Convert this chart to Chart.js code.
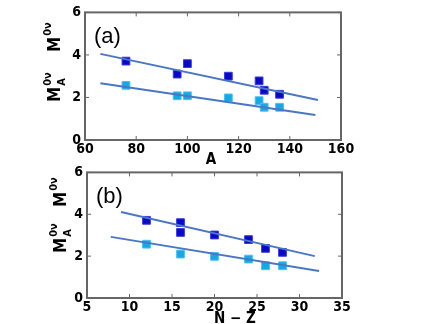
<!DOCTYPE html>
<html>
<head>
<meta charset="utf-8">
<script src="https://cdn.jsdelivr.net/npm/chart.js@4.4.1/dist/chart.umd.min.js"></script>
<style>
  html, body { margin: 0; padding: 0; background: #fff; }
  #wrap { position: relative; width: 432px; height: 324px; overflow: hidden; }
  canvas { position: absolute; left: 0; }
  #topChart { top: 0; }
  #botChart { top: 160px; }
</style>
</head>
<body>
<div id="wrap">
  <canvas id="topChart" width="432" height="170"></canvas>
  <canvas id="botChart" width="432" height="164"></canvas>
</div>
<script>
// panel (a): mass number A
const massNumbers = [76, 96, 100, 116, 128, 130, 136];
const m0vA = [3.71, 3.1, 3.59, 3.0, 2.78, 2.34, 2.15];
const mA0vA = [2.57, 2.08, 2.08, 1.98, 1.85, 1.54, 1.54];
const fitTopA = [[66, 4.05], [151, 1.88]];
const fitLowA = [[66, 2.67], [150, 1.18]];
const ticksA = [60, 80, 100, 120, 140, 160];

// panel (b): neutron excess N - Z
const neutronExcess = [12, 16, 16, 20, 24, 26, 28];
const m0vB = [3.71, 3.6, 3.13, 3.01, 2.79, 2.37, 2.18];
const nzLight = [12, 16, 20, 24, 26, 28];
const mA0vB = [2.57, 2.1, 1.99, 1.86, 1.54, 1.54];
const fitTopB = [[9, 4.11], [31.8, 2.0]];
const fitLowB = [[7.8, 2.92], [32.3, 1.29]];
const ticksNZ = [5, 10, 15, 20, 25, 30, 35];
const ticksY = [0, 2, 4, 6];

const DARK = "#0808c8";
const LIGHT = "#14a8e6";
const FIT = "#4a76c6";
const AXIS = "#666666";
const NARROW = "'Liberation Sans Narrow', 'DejaVu Sans Condensed', sans-serif";
const tickFont = { family: NARROW, size: 14, weight: "bold" };

const pts = (xs, ys) => xs.map((x, i) => ({ x, y: ys[i] }));
const seg = (pairs) => pairs.map(([x, y]) => ({ x, y }));

// frame + inward ticks on all four sides
const framePlugin = {
  id: "frame",
  afterDatasetsDraw(chart) {
    const { ctx, chartArea: a, scales } = chart;
    ctx.save();
    ctx.strokeStyle = AXIS;
    ctx.lineWidth = 1;
    scales.x.ticks.forEach((t) => {
      const px = scales.x.getPixelForValue(t.value);
      ctx.beginPath();
      ctx.moveTo(px, a.bottom); ctx.lineTo(px, a.bottom - 4);
      ctx.moveTo(px, a.top); ctx.lineTo(px, a.top + 4);
      ctx.stroke();
    });
    scales.y.ticks.forEach((t) => {
      const py = scales.y.getPixelForValue(t.value);
      ctx.beginPath();
      ctx.moveTo(a.left, py); ctx.lineTo(a.left + 4, py);
      ctx.moveTo(a.right, py); ctx.lineTo(a.right - 4, py);
      ctx.stroke();
    });
    ctx.lineWidth = 2;
    ctx.strokeRect(a.left, a.top, a.right - a.left, a.bottom - a.top);
    ctx.restore();
  },
};

// rotated "M^0v" and "M_A^0v" labels, panel tag, x title
function labelPlugin(tag, xTitle, xTitlePos, yLabelX, yLabels) {
  return {
    id: "labels",
    afterDraw(chart) {
      const { ctx, chartArea: a } = chart;
      ctx.save();
      ctx.fillStyle = "#000";
      ctx.font = "22px 'Liberation Sans', Arial, sans-serif";
      ctx.textBaseline = "alphabetic";
      ctx.fillText(tag, a.left + 9, a.top + 31);

      ctx.font = "bold 15px " + NARROW;
      ctx.textAlign = "center";
      ctx.fillText(xTitle, xTitlePos[0], xTitlePos[1]);

      yLabels.forEach(([yc, sub]) => {
        ctx.save();
        ctx.translate(yLabelX, yc);
        ctx.rotate(-Math.PI / 2);
        ctx.textAlign = "left";
        ctx.textBaseline = "alphabetic";
        ctx.font = "bold 17px " + NARROW;
        const mw = ctx.measureText("M").width;
        ctx.fillText("M", 0, 6);
        ctx.font = "bold 11px " + NARROW;
        ctx.fillText("0\u03bd", mw + 1, -3);
        if (sub) ctx.fillText(sub, mw + 1, 11);
        ctx.restore();
      });
      ctx.restore();
    },
  };
}

function makeChart(id, cfg) {
  return new Chart(document.getElementById(id), {
    type: "scatter",
    data: {
      datasets: [
        { data: seg(cfg.fitTop), showLine: true, borderColor: FIT, borderWidth: 2, pointRadius: 0 },
        { data: seg(cfg.fitLow), showLine: true, borderColor: FIT, borderWidth: 2, pointRadius: 0 },
        { data: cfg.dark, pointStyle: "rect", pointRadius: 5.5, backgroundColor: DARK, borderColor: "#3a3ae0", borderWidth: 1 },
        { data: cfg.light, pointStyle: "rect", pointRadius: 5.5, backgroundColor: LIGHT, borderColor: "#4cc0f0", borderWidth: 1 },
      ],
    },
    options: {
      responsive: false,
      animation: false,
      events: [],
      layout: { padding: cfg.padding },
      plugins: { legend: { display: false }, tooltip: { enabled: false } },
      scales: {
        x: {
          type: "linear",
          min: cfg.xTicks[0],
          max: cfg.xTicks[cfg.xTicks.length - 1],
          afterBuildTicks: (s) => { s.ticks = cfg.xTicks.map((v) => ({ value: v })); },
          afterFit: (s) => { s.height = 20; },
          grid: { display: false, drawTicks: false },
          border: { display: false },
          ticks: { color: "#000", font: tickFont, padding: 1, maxRotation: 0 },
        },
        y: {
          min: 0,
          max: 6,
          afterBuildTicks: (s) => { s.ticks = ticksY.map((v) => ({ value: v })); },
          afterFit: (s) => { s.width = cfg.yWidth; },
          grid: { display: false, drawTicks: false },
          border: { display: false },
          ticks: { color: "#000", font: tickFont, padding: 4 },
        },
      },
    },
    plugins: [framePlugin, labelPlugin(cfg.tag, cfg.xTitle, cfg.xTitlePos, cfg.yLabelX, cfg.yLabels)],
  });
}

makeChart("topChart", {
  tag: "(a)",
  xTitle: "A",
  xTitlePos: [211, 164],
  yLabelX: 54,
  yLabels: [[52, ""], [102, "A"]],
  xTicks: ticksA,
  fitTop: fitTopA,
  fitLow: fitLowA,
  dark: pts(massNumbers, m0vA),
  light: pts(massNumbers, mA0vA),
  padding: { left: 0, right: 91, top: 9, bottom: 10 },
  yWidth: 85,
});

makeChart("botChart", {
  tag: "(b)",
  xTitle: "N \u2212 Z",
  xTitlePos: [235, 163],
  yLabelX: 60,
  yLabels: [[47, ""], [93, "A"]],
  xTicks: ticksNZ,
  fitTop: fitTopB,
  fitLow: fitLowB,
  dark: pts(neutronExcess, m0vB),
  light: pts(nzLight, mA0vB),
  padding: { left: 0, right: 90, top: 12, bottom: 6 },
  yWidth: 87,
});
</script>
</body>
</html>
